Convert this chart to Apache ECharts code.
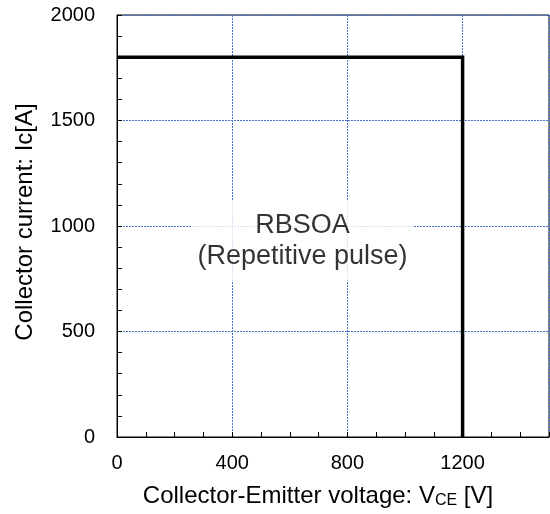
<!DOCTYPE html>
<html>
<head>
<meta charset="utf-8">
<script src="https://cdn.jsdelivr.net/npm/echarts@6/dist/echarts.min.js"></script>
<style>
  html, body { margin: 0; padding: 0; background: #fff; }
  #chart { width: 550px; height: 514px; }
</style>
</head>
<body>
<div id="chart"></div>
<script>
// RBSOA boundary (VCE [V], Ic [A])
const vce = [0, 1200, 1200];
const ic = [1800, 1800, 0];
const noteText = ['RBSOA', '(Repetitive pulse)'];
const notePos = [644, 930];
const xRange = [0, 1500];
const yRange = [0, 2000];

const font = 'Liberation Sans, Arial, sans-serif';
const gridDash = { color: '#4472c4', width: 1, type: [2, 1] };
const plain = (v) => String(v);

const chart = echarts.init(document.getElementById('chart'));
chart.setOption({
  animation: false,
  backgroundColor: '#fff',
  grid: {
    left: 117, right: 1, top: 15, bottom: 73,
    show: true, borderColor: '#000', borderWidth: 1
  },
  xAxis: [
    {
      type: 'value',
      min: xRange[0], max: xRange[1], interval: 400,
      name: '{a|Collector-Emitter voltage: V}{s|CE}{a| [V]}',
      nameLocation: 'middle',
      nameGap: 46,
      nameTextStyle: {
        padding: [0, 30, 0, 0],
        rich: {
          a: { fontFamily: font, fontSize: 24, color: '#000', lineHeight: 26 },
          s: { fontFamily: font, fontSize: 16, color: '#000', lineHeight: 24, verticalAlign: 'bottom' }
        }
      },
      axisLine: { lineStyle: { color: '#000', width: 1 } },
      axisTick: { show: false },
      axisLabel: {
        fontFamily: font, fontSize: 20, color: '#000', margin: 16,
        showMaxLabel: false, formatter: plain
      },
      splitLine: { show: true, lineStyle: gridDash }
    },
    {
      type: 'value',
      position: 'bottom',
      min: xRange[0], max: xRange[1], interval: 100,
      axisLine: { show: false },
      axisTick: { show: true, inside: true, length: 5, lineStyle: { color: '#000' } },
      axisLabel: { show: false },
      splitLine: { show: false }
    }
  ],
  yAxis: {
    type: 'value',
    min: yRange[0], max: yRange[1], interval: 500,
    name: 'Collector current: Ic[A]',
    nameLocation: 'middle',
    nameGap: 80,
    nameTextStyle: { fontFamily: font, fontSize: 24, color: '#000', padding: [0, 0, 0, 8] },
    axisLine: { show: true, lineStyle: { color: '#000', width: 1 } },
    axisTick: { show: true, inside: true, length: 5, lineStyle: { color: '#000' } },
    minorTick: { show: true, splitNumber: 5, length: 5, lineStyle: { color: '#000' } },
    axisLabel: { fontFamily: font, fontSize: 20, color: '#000', margin: 22, formatter: plain, padding: [4, 0, 0, 0] },
    splitLine: { show: true, lineStyle: gridDash }
  },
  series: [
    {
      type: 'line',
      xAxisIndex: 0,
      data: vce.map((v, i) => [v, ic[i]]),
      symbol: 'none',
      lineStyle: { color: '#000', width: 3.5, join: 'miter' },
      z: 3
    },
    {
      type: 'scatter',
      xAxisIndex: 0,
      data: [notePos],
      symbolSize: 0,
      silent: true,
      label: {
        show: true,
        position: 'inside',
        formatter: noteText.join('\n'),
        fontFamily: font,
        fontSize: 27,
        lineHeight: 31,
        color: '#000',
        align: 'center',
        backgroundColor: '#fff',
        padding: [9, 6, 9, 6]
      },
      z: 4
    }
  ]
});
</script>
</body>
</html>
